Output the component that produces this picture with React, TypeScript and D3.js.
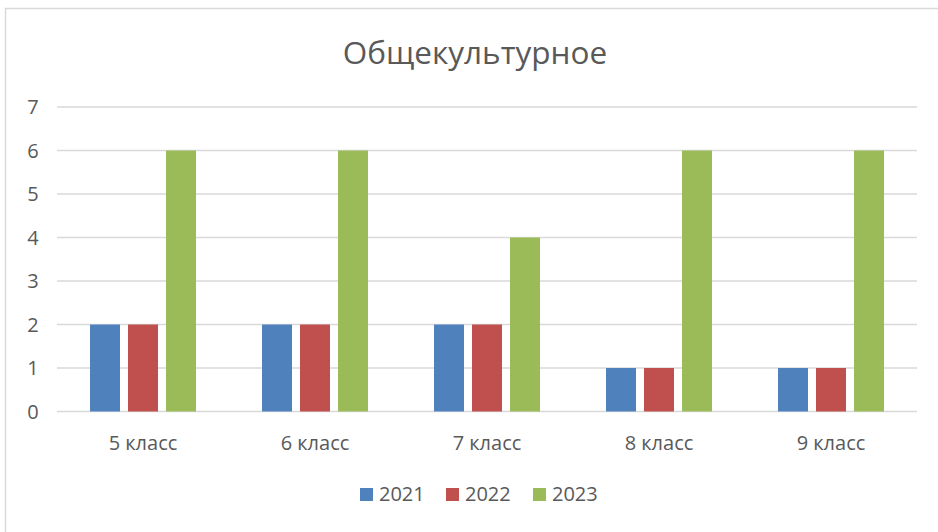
import { useEffect, useRef } from 'react';
import * as d3 from 'd3';

const categories = ['5 класс', '6 класс', '7 класс', '8 класс', '9 класс'];
const seriesNames = ['2021', '2022', '2023'];
const values2021 = [2, 2, 2, 1, 1];
const values2022 = [2, 2, 2, 1, 1];
const values2023 = [6, 6, 4, 6, 6];
const yTicks = [0, 1, 2, 3, 4, 5, 6, 7];
const colors = ['#4f81bd', '#c0504d', '#9bbb59'];

const width = 938;
const height = 532;
const font = '"Open Sans", "Noto Sans", sans-serif';
const textColor = '#595959';

export default function App() {
  const svgRef = useRef<SVGSVGElement>(null);

  useEffect(() => {
    if (!svgRef.current) return;
    const svg = d3.select(svgRef.current);
    svg.selectAll('*').remove();

    // chart frame (extends beyond the visible area on right/bottom)
    svg.append('rect')
      .attr('x', 5.5)
      .attr('y', 8.5)
      .attr('width', 960)
      .attr('height', 560)
      .attr('fill', '#fff')
      .attr('stroke', '#d9d9d9')
      .attr('stroke-width', 1.5);

    svg.append('text')
      .attr('x', 475)
      .attr('y', 64)
      .attr('text-anchor', 'middle')
      .style('font-family', font)
      .style('font-size', '31.5px')
      .style('fill', textColor)
      .text('Общекультурное');

    const left = 57;
    const right = 917;
    const x0 = d3.scaleBand<string>().domain(categories).range([left, right]).padding(0);
    const x1 = d3.scaleBand<string>().domain(seriesNames).range([33, 139]).paddingInner(0.211).paddingOuter(0);
    const y = d3.scaleLinear().domain([0, 7]).range([411.5, 107]);

    const g = svg.append('g');

    g.selectAll('.grid')
      .data(yTicks)
      .enter()
      .append('line')
      .attr('x1', left)
      .attr('x2', right)
      .attr('y1', (d) => y(d))
      .attr('y2', (d) => y(d))
      .attr('stroke', '#d9d9d9')
      .attr('stroke-width', 1.5);

    g.selectAll('.ytick')
      .data(yTicks)
      .enter()
      .append('text')
      .attr('x', 33)
      .attr('y', (d) => y(d))
      .attr('dy', '0.36em')
      .attr('text-anchor', 'middle')
      .style('font-family', font)
      .style('font-size', '20px')
      .style('fill', textColor)
      .text((d) => d);

    const allSeries = [values2021, values2022, values2023];
    allSeries.forEach((vals, si) => {
      g.selectAll(`.bar-${si}`)
        .data(vals)
        .enter()
        .append('rect')
        .attr('x', (_d, i) => (x0(categories[i]) ?? 0) + (x1(seriesNames[si]) ?? 0))
        .attr('y', (d) => y(d))
        .attr('width', x1.bandwidth())
        .attr('height', (d) => y(0) - y(d))
        .attr('fill', colors[si]);
    });

    g.selectAll('.xlabel')
      .data(categories)
      .enter()
      .append('text')
      .attr('x', (d) => (x0(d) ?? 0) + x0.bandwidth() / 2)
      .attr('y', 450)
      .attr('text-anchor', 'middle')
      .style('font-family', font)
      .style('font-size', '20px')
      .style('fill', textColor)
      .text((d) => d);

    // legend
    const legendX = [360, 446, 533];
    const legend = svg.append('g');
    seriesNames.forEach((name, i) => {
      legend.append('rect')
        .attr('x', legendX[i])
        .attr('y', 488)
        .attr('width', 13)
        .attr('height', 13)
        .attr('fill', colors[i]);
      legend.append('text')
        .attr('x', legendX[i] + 19)
        .attr('y', 501)
        .style('font-family', font)
        .style('font-size', '20px')
        .style('fill', textColor)
        .text(name);
    });
  }, []);

  return (
    <svg
      ref={svgRef}
      width={width}
      height={height}
      style={{ position: 'absolute', left: 0, top: 0, display: 'block' }}
    />
  );
}
